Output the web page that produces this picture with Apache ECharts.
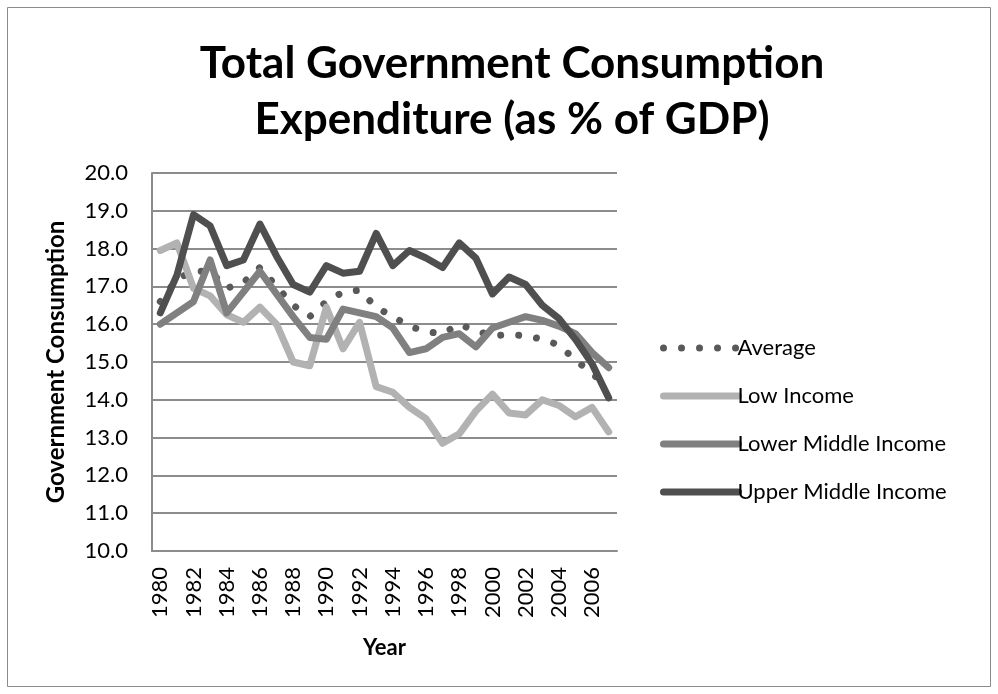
<!DOCTYPE html>
<html>
<head>
<meta charset="utf-8">
<script src="https://cdn.jsdelivr.net/npm/echarts@6/dist/echarts.min.js"></script>
<style>
html,body{margin:0;padding:0;background:#fff;}
#chart{width:998px;height:694px;}
</style>
</head>
<body>
<div id="chart"></div>
<script>
const years = ['1980','1981','1982','1983','1984','1985','1986','1987','1988','1989','1990','1991','1992','1993','1994','1995','1996','1997','1998','1999','2000','2001','2002','2003','2004','2005','2006','2007'];
const average = [16.6,17.2,17.4,17.4,16.95,17.1,17.5,17.0,16.5,16.2,16.6,16.85,16.9,16.45,16.2,15.95,15.8,15.75,16.0,15.82,15.7,15.72,15.7,15.6,15.45,15.05,14.7,14.3];
const lowIncome = [17.95,18.15,16.95,16.75,16.25,16.05,16.45,16.0,15.0,14.9,16.45,15.35,16.05,14.35,14.2,13.8,13.5,12.85,13.1,13.7,14.15,13.65,13.6,14.0,13.85,13.55,13.8,13.15];
const lowerMiddle = [16.0,16.3,16.6,17.7,16.3,16.85,17.4,16.8,16.2,15.65,15.6,16.4,16.3,16.2,15.9,15.25,15.35,15.65,15.75,15.4,15.9,16.05,16.2,16.1,15.95,15.75,15.25,14.85];
const upperMiddle = [16.3,17.3,18.9,18.6,17.55,17.7,18.65,17.8,17.05,16.85,17.55,17.35,17.4,18.4,17.55,17.95,17.75,17.5,18.15,17.75,16.8,17.25,17.05,16.5,16.15,15.6,14.95,14.05];
const yTicks = {min:10, max:20, step:1};
const titleLines = ['Total Government Consumption','Expenditure (as % of GDP)'];

const FONT = 'Lato';
const chart = echarts.init(document.getElementById('chart'), null, {renderer:'canvas'});
function mk(name, data, color, dotted){
  return {
    name, type:'line', data, symbol:'none', smooth:false,
    lineStyle:{color, width:7, type: dotted ? [0.01,18] : 'solid', cap:'round', join:'round'},
    itemStyle:{color},
    z: dotted ? 1 : 2
  };
}
chart.setOption({
  animation:false,
  backgroundColor:'#fff',
  graphic:[{type:'rect', shape:{x:7.5,y:7.5,width:983,height:679}, style:{fill:'none', stroke:'#8c8c8c', lineWidth:1}, silent:true, z:-10}],
  title:{text:titleLines.join('\n'), left:507, top:31, textAlign:'center',
    textStyle:{fontFamily:FONT, fontWeight:'bold', fontSize:44, lineHeight:56, color:'#000'}},
  grid:{left:152, right:381, top:173, bottom:143, containLabel:false},
  legend:{orient:'vertical', left:655, top:332, itemWidth:75, itemHeight:14, itemGap:26,
    lineStyle:{width:7},
    itemStyle:{opacity:0},
    textStyle:{fontFamily:FONT, fontSize:22, color:'#000', padding:[0,0,0,-6]},
    data:['Average','Low Income','Lower Middle Income','Upper Middle Income']},
  xAxis:{type:'category', data:years, boundaryGap:true,
    name:'Year', nameLocation:'middle', nameGap:86,
    nameTextStyle:{fontFamily:FONT, fontWeight:'bold', fontSize:22, color:'#000'},
    axisLine:{lineStyle:{color:'#8c8c8c', width:2}},
    axisTick:{show:false},
    axisLabel:{interval:1, rotate:90, margin:16, fontFamily:FONT, fontSize:22, color:'#000'}},
  yAxis:{type:'value', min:yTicks.min, max:yTicks.max, interval:yTicks.step,
    name:'Government Consumption', nameLocation:'middle', nameRotate:90, nameGap:84,
    nameTextStyle:{fontFamily:FONT, fontWeight:'bold', fontSize:24, color:'#000'},
    axisLine:{show:true, lineStyle:{color:'#8c8c8c', width:2}},
    axisTick:{show:false},
    splitLine:{lineStyle:{color:'#8c8c8c', width:2}},
    axisLabel:{margin:24, fontFamily:FONT, fontSize:22, color:'#000', formatter:v=>v.toFixed(1)}},
  series:[
    mk('Average', average, '#595959', true),
    mk('Low Income', lowIncome, '#b2b2b2', false),
    mk('Lower Middle Income', lowerMiddle, '#808080', false),
    mk('Upper Middle Income', upperMiddle, '#4f4f4f', false)
  ]
});
</script>
</body>
</html>
